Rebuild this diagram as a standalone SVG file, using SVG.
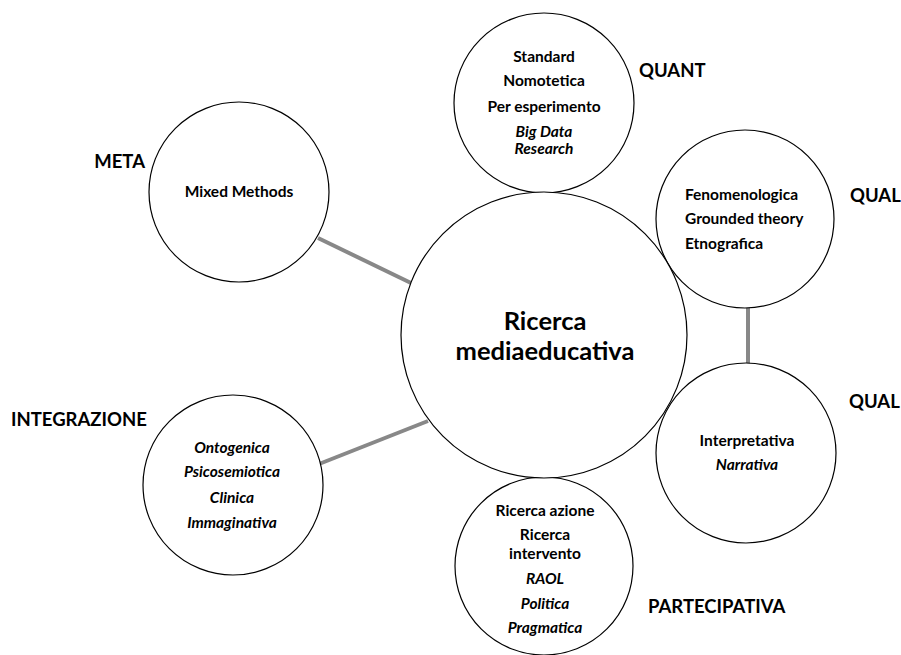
<svg xmlns="http://www.w3.org/2000/svg" width="901" height="655" viewBox="0 0 901 655">
<style>
.c{fill:#fff;stroke:#000;stroke-width:1.2}
.t{font-family:Lato,"Liberation Sans",sans-serif;font-weight:bold;font-size:15.5px;fill:#000;text-anchor:middle}
.s{text-anchor:start}
.i{font-style:italic}
.l{font-family:Lato,"Liberation Sans",sans-serif;font-weight:bold;font-size:18.5px;fill:#000}
.big{font-family:Lato,"Liberation Sans",sans-serif;font-weight:bold;font-size:25.5px;fill:#000;text-anchor:middle}
.e{stroke:#888;stroke-width:4;fill:none}
</style>
<rect width="901" height="655" fill="#fff"/>
<g id="connectors">
<line class="e" x1="318" y1="238" x2="411" y2="283"/>
<line class="e" x1="319" y1="464" x2="428" y2="421"/>
<line class="e" x1="748" y1="308" x2="748" y2="364"/>
</g>
<g id="quant">
<circle class="c" cx="544" cy="103" r="90"/>
<text class="t" x="544" y="62">Standard</text>
<text class="t" x="544" y="86">Nomotetica</text>
<text class="t" x="544" y="112">Per esperimento</text>
<text class="t i" x="544" y="137">Big Data</text>
<text class="t i" x="544" y="154">Research</text>
<text class="l" x="639" y="77">QUANT</text>
</g>
<g id="qual1">
<circle class="c" cx="745" cy="219" r="89"/>
<text class="t s" x="685" y="200">Fenomenologica</text>
<text class="t s" x="685" y="224">Grounded theory</text>
<text class="t s" x="685" y="249">Etnografica</text>
<text class="l" x="850" y="202">QUAL</text>
</g>
<g id="qual2">
<circle class="c" cx="746" cy="453" r="90"/>
<text class="t" x="747" y="446">Interpretativa</text>
<text class="t i" x="747" y="470">Narrativa</text>
<text class="l" x="849" y="408">QUAL</text>
</g>
<g id="partecipativa">
<circle class="c" cx="544" cy="566" r="89"/>
<text class="t" x="545" y="516">Ricerca azione</text>
<text class="t" x="545" y="540">Ricerca</text>
<text class="t" x="545" y="559">intervento</text>
<text class="t i" x="545" y="584">RAOL</text>
<text class="t i" x="545" y="609">Politica</text>
<text class="t i" x="545" y="633">Pragmatica</text>
<text class="l" x="648" y="613">PARTECIPATIVA</text>
</g>
<g id="integrazione">
<circle class="c" cx="233" cy="485" r="90"/>
<text class="t i" x="232" y="453">Ontogenica</text>
<text class="t i" x="232" y="477">Psicosemiotica</text>
<text class="t i" x="232" y="503">Clinica</text>
<text class="t i" x="232" y="528">Immaginativa</text>
<text class="l" x="11" y="426">INTEGRAZIONE</text>
</g>
<g id="meta">
<circle class="c" cx="239" cy="192" r="90"/>
<text class="t" x="239" y="197">Mixed Methods</text>
<text class="l" x="145" y="168" text-anchor="end">META</text>
</g>
<g id="center">
<circle class="c" cx="544" cy="335" r="143"/>
<text class="big" x="545" y="330">Ricerca</text>
<text class="big" x="545" y="360">mediaeducativa</text>
</g>
</svg>
